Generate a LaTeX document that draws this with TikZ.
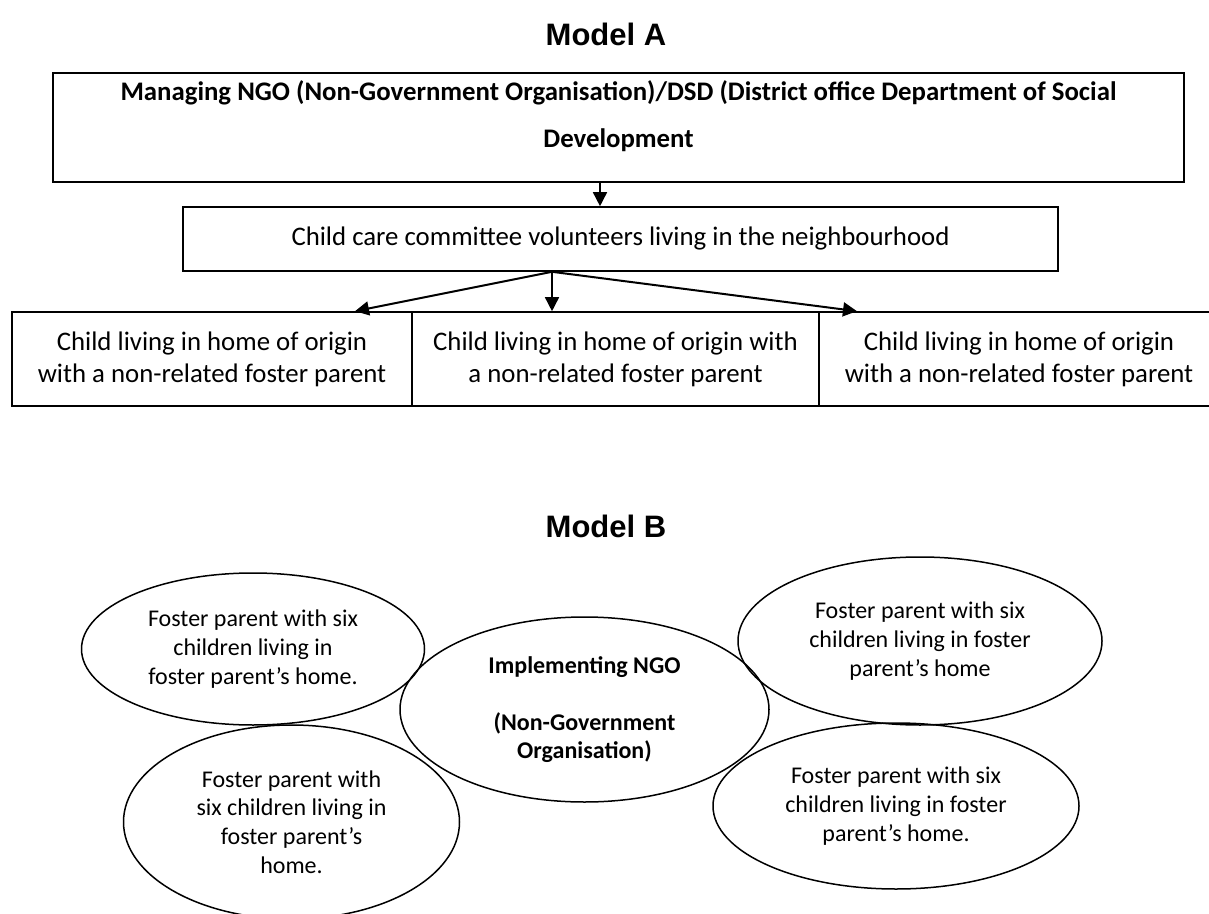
\documentclass[tikz,border=0pt]{standalone}
\usepackage{fontspec}
\setmainfont{Carlito}
\newfontfamily\headfont{Liberation Sans}
\usetikzlibrary{arrows.meta}
\usetikzlibrary{shapes.geometric}

\begin{document}
\begin{tikzpicture}[x=0.5pt,y=-0.5pt,
>={Triangle[length=7pt,width=7pt]},
font=\fontsize{12}{15.5}\selectfont,
scale=1.0,
every node/.style={scale=1.0}]
\tikzstyle{hd} = [font=\headfont\bfseries\fontsize{15.5}{18}\selectfont]
\tikzstyle{box} = [draw, line width=0.8pt, align=center, inner sep=0pt, font=\fontsize{13.4}{16}\selectfont]
\tikzstyle{oval} = [draw, ellipse, line width=0.75pt, align=center, inner sep=0pt, font=\fontsize{12}{14.3}\selectfont]
\tikzstyle{link} = [->, line width=1pt]

\useasboundingbox (0,0) rectangle (1209,914);

% Model A
\node[hd](modelA) at (606,34){Model A};
\node[box, minimum width=565.5pt, minimum height=54.5pt](mngo) at (618.5,127.5){};
\node[align=center, font=\bfseries\fontsize{13.4}{23.5}\selectfont](mngotxt) at (618.5,116.5){Managing NGO (Non-Government Organisation)/DSD (District office Department of Social\\Development};
\node[box, minimum width=437.5pt, minimum height=32pt](ccc) at (620.5,239){Child care committee volunteers living in the neighbourhood};

\node[box, minimum width=200pt, minimum height=47pt](kid1) at (212,359){Child living in home of origin\\with a non-related foster parent};
\node[box, minimum width=203.5pt, minimum height=47pt](kid2) at (615.5,359){Child living in home of origin with\\a non-related foster parent};
\node[box, minimum width=200pt, minimum height=47pt](kid3) at (1019,359){Child living in home of origin\\with a non-related foster parent};

\draw[link, line width=0.8pt] ([xshift=-9.25pt]mngo.south) -- ([xshift=-9.25pt]mngo.south |- ccc.north);
\coordinate (fork) at ([xshift=-34.25pt]ccc.south);
\draw[link] (fork) -- ([xshift=71.5pt]kid1.north);
\draw[link, line width=0.8pt] (fork) -- (fork |- kid2.north);
\draw[link] (fork) -- ([xshift=-81pt]kid3.north);

% Model B
\node[hd](modelB) at (606,526){Model B};
\node[oval, minimum width=171.5pt, minimum height=76pt](fp1) at (253,649){Foster parent with six\\children living in\\foster parent’s home.};
\node[oval, minimum width=184.5pt, minimum height=92.5pt, font=\bfseries\fontsize{12}{14.3}\selectfont](ngo) at (584.5,709.5){Implementing NGO\\[14.3pt](Non-Government\\Organisation)};
\node[oval, minimum width=182pt, minimum height=84pt](fp2) at (920,641){Foster parent with six\\children living in foster\\parent’s home};
\node[oval, minimum width=168pt, minimum height=97pt](fp3) at (291.5,822){Foster parent with\\six children living in\\foster parent’s\\home.};
\node[oval, minimum width=183pt, minimum height=83pt](fp4) at (896,806){Foster parent with six\\children living in foster\\parent’s home.};

\end{tikzpicture}
\end{document}
